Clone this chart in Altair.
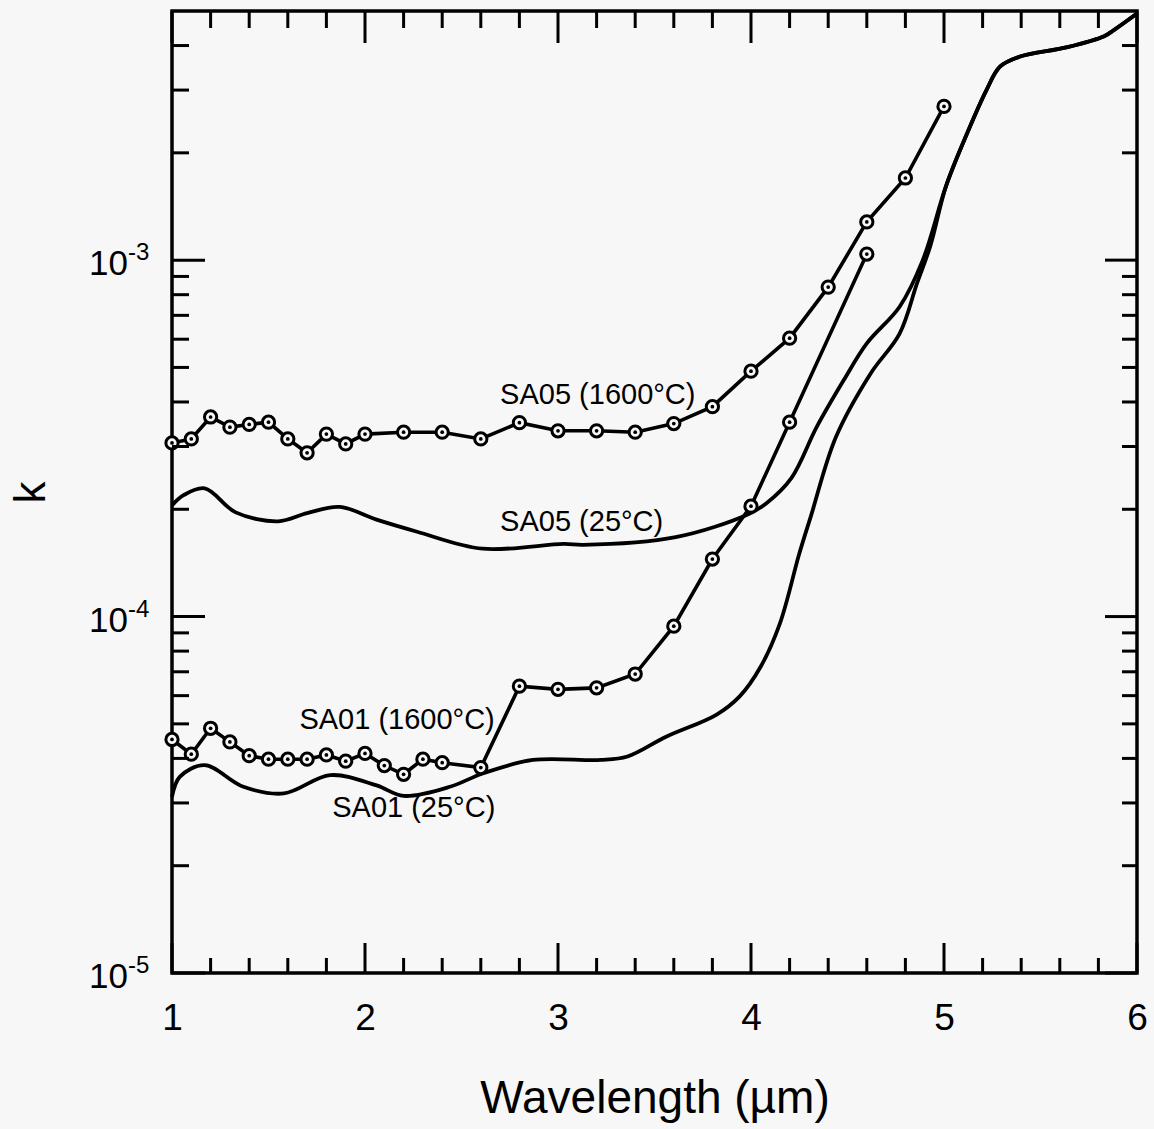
import altair as alt
import pandas as pd

# ---------------- data ----------------
# SA05 measured at 1600 C (circles)
sa05_hot_x = [1.0, 1.1, 1.2, 1.3, 1.4, 1.5, 1.6, 1.7, 1.8, 1.9, 2.0, 2.2, 2.4, 2.6, 2.8,
              3.0, 3.2, 3.4, 3.6, 3.8, 4.0, 4.2, 4.4, 4.6, 4.8, 5.0]
sa05_hot_k = [3.07e-4, 3.15e-4, 3.63e-4, 3.40e-4, 3.46e-4, 3.51e-4, 3.15e-4, 2.88e-4, 3.25e-4,
              3.05e-4, 3.25e-4, 3.29e-4, 3.29e-4, 3.15e-4, 3.50e-4, 3.32e-4, 3.32e-4, 3.29e-4,
              3.48e-4, 3.88e-4, 4.88e-4, 6.04e-4, 8.4e-4, 1.28e-3, 1.70e-3, 2.70e-3]

# SA01 measured at 1600 C (circles)
sa01_hot_x = [1.0, 1.1, 1.2, 1.3, 1.4, 1.5, 1.6, 1.7, 1.8, 1.9, 2.0, 2.1, 2.2, 2.3, 2.4, 2.6,
              2.8, 3.0, 3.2, 3.4, 3.6, 3.8, 4.0, 4.2, 4.6]
sa01_hot_k = [4.52e-5, 4.11e-5, 4.86e-5, 4.45e-5, 4.07e-5, 3.98e-5, 3.98e-5, 3.98e-5, 4.09e-5,
              3.93e-5, 4.13e-5, 3.82e-5, 3.61e-5, 3.98e-5, 3.89e-5, 3.77e-5, 6.38e-5, 6.25e-5,
              6.31e-5, 6.90e-5, 9.4e-5, 1.45e-4, 2.04e-4, 3.51e-4, 1.04e-3]

# SA05 at 25 C (smooth curve)
sa05_room_x = [1.0, 1.06, 1.17, 1.33, 1.55, 1.70, 1.87, 2.06, 2.27, 2.61, 3.03, 3.13, 3.61,
               3.98, 4.08, 4.21, 4.34, 4.48, 4.60, 4.77, 4.89, 5.01, 5.12, 5.22, 5.29, 5.39,
               5.64, 5.83, 5.88, 6.0]
sa05_room_k = [2.05e-4, 2.19e-4, 2.29e-4, 1.96e-4, 1.85e-4, 1.95e-4, 2.03e-4, 1.87e-4, 1.73e-4,
               1.55e-4, 1.60e-4, 1.59e-4, 1.67e-4, 1.93e-4, 2.08e-4, 2.45e-4, 3.40e-4, 4.6e-4,
               5.84e-4, 7.4e-4, 1.0e-3, 1.61e-3, 2.27e-3, 3.0e-3, 3.49e-3, 3.72e-3,
               3.96e-3, 4.25e-3, 4.42e-3, 4.92e-3]

# SA01 at 25 C (smooth curve)
sa01_room_x = [1.0, 1.04, 1.17, 1.37, 1.58, 1.82, 2.06, 2.20, 2.44, 2.61, 2.87, 3.22, 3.36,
               3.56, 3.82, 3.94, 4.05, 4.15, 4.25, 4.31, 4.44, 4.62, 4.77, 4.86, 4.93, 5.01,
               5.12, 5.22, 5.29, 5.39, 5.64, 5.83, 5.88, 6.0]
sa01_room_k = [3.12e-5, 3.55e-5, 3.83e-5, 3.33e-5, 3.19e-5, 3.59e-5, 3.36e-5, 3.14e-5, 3.33e-5,
               3.63e-5, 3.96e-5, 3.96e-5, 4.05e-5, 4.6e-5, 5.3e-5, 5.96e-5, 7.23e-5, 9.57e-5,
               1.50e-4, 1.91e-4, 3.19e-4, 4.81e-4, 6.22e-4, 8.6e-4, 1.1e-3, 1.61e-3,
               2.27e-3, 3.0e-3, 3.49e-3, 3.72e-3, 3.96e-3, 4.25e-3, 4.42e-3, 4.92e-3]

# curve labels (anchored at their left edge)
label_text = ["SA05 (1600°C)", "SA05 (25°C)", "SA01 (1600°C)", "SA01 (25°C)"]
label_x = [2.70, 2.70, 1.66, 1.83]
label_k = [4.18e-4, 1.84e-4, 5.12e-5, 2.90e-5]

# axis ticks
x_label_values = [1, 2, 3, 4, 5, 6]
x_minor_values = [1.2, 1.4, 1.6, 1.8, 2.2, 2.4, 2.6, 2.8, 3.2, 3.4, 3.6, 3.8,
                  4.2, 4.4, 4.6, 4.8, 5.2, 5.4, 5.6, 5.8]
y_major_values = [1e-5, 1e-4, 1e-3]
y_major_exps = ["-5", "-4", "-3"]
y_minor_values = [2e-5, 3e-5, 4e-5, 5e-5, 6e-5, 7e-5, 8e-5, 9e-5,
                  2e-4, 3e-4, 4e-4, 5e-4, 6e-4, 7e-4, 8e-4, 9e-4,
                  2e-3, 3e-3, 4e-3]

# ---------------- chart ----------------
W, H = 965, 962
FONT = "Liberation Sans"
BG = "#f7f7f7"

xs = alt.Scale(domain=[1, 6], nice=False, zero=False)
ys = alt.Scale(type="log", domain=[1e-5, 5e-3], nice=False)

hot_df = pd.concat([
    pd.DataFrame({"wl": sa05_hot_x, "k": sa05_hot_k, "series": "SA05 1600"}),
    pd.DataFrame({"wl": sa01_hot_x, "k": sa01_hot_k, "series": "SA01 1600"}),
])
room_df = pd.concat([
    pd.DataFrame({"wl": sa05_room_x, "k": sa05_room_k, "series": "SA05 25"}),
    pd.DataFrame({"wl": sa01_room_x, "k": sa01_room_k, "series": "SA01 25"}),
])
lab_df = pd.DataFrame({"wl": label_x, "k": label_k, "text": label_text})

x_enc = alt.X("wl:Q", scale=xs, axis=alt.Axis(
    values=x_label_values, format="d", labelFlush=False, ticks=False, tickSize=0,
    domain=False, grid=False,
    labelFontSize=37, labelFont=FONT, labelColor="black", labelPadding=27,
    title="Wavelength (µm)", titleFontSize=46, titleFont=FONT, titleFontWeight="normal",
    titleColor="black", titlePadding=40))
y_enc = alt.Y("k:Q", scale=ys, axis=alt.Axis(
    labels=False, ticks=False, tickSize=0, domain=False, grid=False,
    title="k", titleFontSize=44, titleFont=FONT, titleFontWeight="normal",
    titleColor="black", titlePadding=119))

room = alt.Chart(room_df).mark_line(color="black", strokeWidth=3.8, interpolate="catmull-rom").encode(
    x=x_enc, y=y_enc, detail="series:N")
hot = alt.Chart(hot_df).mark_line(color="black", strokeWidth=3.6).encode(
    x="wl:Q", y="k:Q", detail="series:N")
rings = alt.Chart(hot_df).mark_point(shape="circle", fill=BG, fillOpacity=1, stroke="black",
                                     strokeWidth=3, size=150, opacity=1).encode(x="wl:Q", y="k:Q")
dots = alt.Chart(hot_df).mark_point(shape="circle", filled=True, color="black", size=14,
                                    opacity=1).encode(x="wl:Q", y="k:Q")

labels = alt.Chart(lab_df).mark_text(align="left", baseline="middle", font=FONT, fontSize=29,
                                      color="black").encode(x="wl:Q", y="k:Q", text="text:N")

# inward ticks on all four sides
xmaj = pd.DataFrame({"wl": x_label_values})
xmin = pd.DataFrame({"wl": x_minor_values})
ymaj = pd.DataFrame({"k": y_major_values, "e": y_major_exps})
ymin = pd.DataFrame({"k": y_minor_values})

def vtick(df, y0, y1):
    return alt.Chart(df).mark_rule(color="black", strokeWidth=3).encode(
        x="wl:Q", y=alt.value(y0), y2=alt.value(y1))

def htick(df, x0, x1):
    return alt.Chart(df).mark_rule(color="black", strokeWidth=3).encode(
        y="k:Q", x=alt.value(x0), x2=alt.value(x1))

ticks = [
    vtick(xmaj, H, H - 30), vtick(xmin, H, H - 15),
    vtick(xmaj, 0, 32), vtick(xmin, 0, 17),
    htick(ymaj, 0, 33), htick(ymin, 0, 17),
    htick(ymaj, W, W - 32), htick(ymin, W, W - 15),
]

ylab_base = alt.Chart(ymaj).mark_text(align="right", baseline="middle", font=FONT, fontSize=35,
                                       color="black", dy=4).encode(
    y="k:Q", x=alt.value(-44), text=alt.value("10"))
ylab_exp = alt.Chart(ymaj).mark_text(align="left", baseline="middle", font=FONT, fontSize=24,
                                      color="black", dy=-7).encode(
    y="k:Q", x=alt.value(-44), text="e:N")

chart = alt.layer(room, hot, rings, dots, labels, *ticks, ylab_base, ylab_exp).properties(
    width=W, height=H,
    autosize=alt.AutoSizeParams(type="none"),
    padding={"left": 172, "top": 11, "right": 17, "bottom": 156},
).configure(background=BG).configure_view(stroke="black", strokeWidth=3.5)

chart.save("out.html", embed_options={"renderer": "svg", "actions": False})
